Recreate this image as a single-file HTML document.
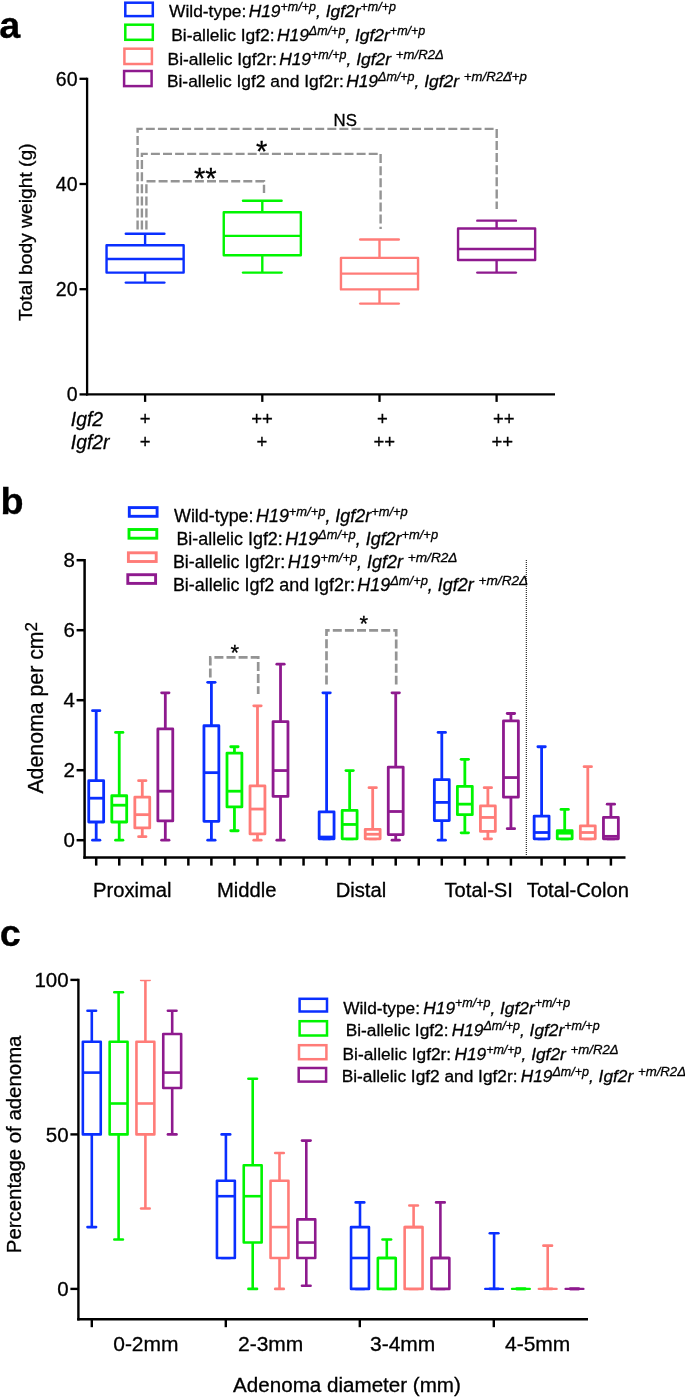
<!DOCTYPE html>
<html><head><meta charset="utf-8"><title>Figure</title>
<style>
html,body{margin:0;padding:0;background:#fff;}
body{width:685px;height:1397px;overflow:hidden;}
svg{display:block;will-change:transform;font-family:"Liberation Sans",sans-serif;fill:#000;}
text{stroke:#000;stroke-width:0.3px;white-space:pre;}
</style></head><body>
<svg width="685" height="1397" viewBox="0 0 685 1397">
<rect x="0" y="0" width="685" height="1397" fill="#ffffff" stroke="none"/>
<!-- panel a -->
<text x="-0.7" y="38" font-size="37.8" text-anchor="start" font-weight="bold">a</text>
<rect x="125.3" y="2.7" width="27.5" height="13.4" fill="#fff" stroke="#0a2fff" stroke-width="2.5"/>
<rect x="125.3" y="24.7" width="27.5" height="15.1" fill="#fff" stroke="#00f500" stroke-width="2.5"/>
<rect x="124.4" y="48.7" width="27.5" height="15.3" fill="#fff" stroke="#ff7c78" stroke-width="2.5"/>
<rect x="124.1" y="71" width="27.5" height="15.1" fill="#fff" stroke="#8e1a8e" stroke-width="2.5"/>
<text x="169" y="16.9" font-size="17.4" xml:space="preserve">Wild-type: <tspan font-style="italic" dx="-2.5">H19</tspan><tspan font-size="12.5" dy="-6.2" font-style="italic">+m/+p</tspan><tspan font-style="italic" dy="6.2">, Igf2r</tspan><tspan font-size="12.5" dy="-6.2" font-style="italic">+m/+p</tspan></text>
<text x="171.2" y="40.9" font-size="17.4" xml:space="preserve">Bi-allelic Igf2: <tspan font-style="italic" dx="-2.5">H19</tspan><tspan font-size="12.5" dy="-6.2" font-style="italic">&#916;m/+p</tspan><tspan font-style="italic" dy="6.2">, Igf2r</tspan><tspan font-size="12.5" dy="-6.2" font-style="italic">+m/+p</tspan></text>
<text x="167.6" y="64.8" font-size="17.4" xml:space="preserve">Bi-allelic Igf2r: <tspan font-style="italic" dx="-2.5">H19</tspan><tspan font-size="12.5" dy="-6.2" font-style="italic">+m/+p</tspan><tspan font-style="italic" dy="6.2">, Igf2r </tspan><tspan font-size="13.19" dy="-6.2" font-style="italic">+m/R2&#916;</tspan></text>
<text x="166.9" y="87" font-size="17.4" xml:space="preserve">Bi-allelic Igf2 and Igf2r: <tspan font-style="italic" dx="-2.5">H19</tspan><tspan font-size="12.5" dy="-6.2" font-style="italic">&#916;m/+p</tspan><tspan font-style="italic" dy="6.2">, Igf2r </tspan><tspan font-size="13.19" dy="-6.2" font-style="italic">+m/R2&#916;<tspan dx="-3">&#8217;+p</tspan></tspan></text>
<line x1="87.1" y1="77.65" x2="87.1" y2="395.55" stroke="#000" stroke-width="2.3" />
<line x1="85.95" y1="394.4" x2="555" y2="394.4" stroke="#000" stroke-width="2.3" />
<line x1="79.5" y1="394.4" x2="87.1" y2="394.4" stroke="#000" stroke-width="2.3" />
<text x="77.5" y="401.3" font-size="19.5" text-anchor="end" >0</text>
<line x1="79.5" y1="289.2" x2="87.1" y2="289.2" stroke="#000" stroke-width="2.3" />
<text x="77.5" y="296.1" font-size="19.5" text-anchor="end" >20</text>
<line x1="79.5" y1="184" x2="87.1" y2="184" stroke="#000" stroke-width="2.3" />
<text x="77.5" y="190.9" font-size="19.5" text-anchor="end" >40</text>
<line x1="79.5" y1="78.8" x2="87.1" y2="78.8" stroke="#000" stroke-width="2.3" />
<text x="77.5" y="85.7" font-size="19.5" text-anchor="end" >60</text>
<line x1="145.1" y1="394.4" x2="145.1" y2="401.9" stroke="#000" stroke-width="2.3" />
<line x1="262.3" y1="394.4" x2="262.3" y2="401.9" stroke="#000" stroke-width="2.3" />
<line x1="379.5" y1="394.4" x2="379.5" y2="401.9" stroke="#000" stroke-width="2.3" />
<line x1="496.6" y1="394.4" x2="496.6" y2="401.9" stroke="#000" stroke-width="2.3" />
<text transform="translate(31.7,321) rotate(-90)" font-size="19.25">Total body weight (g)</text>
<polyline points="137.6,229.6 137.6,128.9 496.7,128.9 496.7,209" fill="none" stroke="#949494" stroke-width="2.4" stroke-dasharray="9 3.1"/>
<polyline points="141.9,229.6 141.9,153.9 380.6,153.9 380.6,229" fill="none" stroke="#949494" stroke-width="2.4" stroke-dasharray="9 3.1"/>
<polyline points="146.4,229.6 146.4,181.3 264,181.3 264,193" fill="none" stroke="#949494" stroke-width="2.4" stroke-dasharray="9 3.1"/>
<text x="345.2" y="125.7" font-size="16.8" text-anchor="middle" >NS</text>
<text x="261.7" y="161" font-size="29" text-anchor="middle" stroke-width="0">*</text>
<text x="205.3" y="188.3" font-size="29" text-anchor="middle" stroke-width="0">**</text>
<line x1="145.1" y1="233.77" x2="145.1" y2="245.32" stroke="#0a2fff" stroke-width="2.4" />
<line x1="145.1" y1="272.62" x2="145.1" y2="282.6" stroke="#0a2fff" stroke-width="2.4" />
<line x1="125.8" y1="233.77" x2="164.4" y2="233.77" stroke="#0a2fff" stroke-width="2.4" stroke-linecap="round"/>
<line x1="125.8" y1="282.6" x2="164.4" y2="282.6" stroke="#0a2fff" stroke-width="2.4" stroke-linecap="round"/>
<rect x="106.55" y="245.32" width="77.1" height="27.3" fill="#fff" stroke="#0a2fff" stroke-width="2.4" stroke-linejoin="round"/>
<line x1="106.55" y1="258.98" x2="183.65" y2="258.98" stroke="#0a2fff" stroke-width="2.4" />
<line x1="262.3" y1="200.7" x2="262.3" y2="212.25" stroke="#00f500" stroke-width="2.4" />
<line x1="262.3" y1="255.3" x2="262.3" y2="272.62" stroke="#00f500" stroke-width="2.4" />
<line x1="243" y1="200.7" x2="281.6" y2="200.7" stroke="#00f500" stroke-width="2.4" stroke-linecap="round"/>
<line x1="243" y1="272.62" x2="281.6" y2="272.62" stroke="#00f500" stroke-width="2.4" stroke-linecap="round"/>
<rect x="223.75" y="212.25" width="77.1" height="43.05" fill="#fff" stroke="#00f500" stroke-width="2.4" stroke-linejoin="round"/>
<line x1="223.75" y1="235.87" x2="300.85" y2="235.87" stroke="#00f500" stroke-width="2.4" />
<line x1="379.5" y1="239.55" x2="379.5" y2="257.92" stroke="#ff7c78" stroke-width="2.4" />
<line x1="379.5" y1="289.42" x2="379.5" y2="303.6" stroke="#ff7c78" stroke-width="2.4" />
<line x1="360.2" y1="239.55" x2="398.8" y2="239.55" stroke="#ff7c78" stroke-width="2.4" stroke-linecap="round"/>
<line x1="360.2" y1="303.6" x2="398.8" y2="303.6" stroke="#ff7c78" stroke-width="2.4" stroke-linecap="round"/>
<rect x="340.95" y="257.92" width="77.1" height="31.5" fill="#fff" stroke="#ff7c78" stroke-width="2.4" stroke-linejoin="round"/>
<line x1="340.95" y1="273.67" x2="418.05" y2="273.67" stroke="#ff7c78" stroke-width="2.4" />
<line x1="496.6" y1="220.65" x2="496.6" y2="228.52" stroke="#8e1a8e" stroke-width="2.4" />
<line x1="496.6" y1="260.02" x2="496.6" y2="272.62" stroke="#8e1a8e" stroke-width="2.4" />
<line x1="477.3" y1="220.65" x2="515.9" y2="220.65" stroke="#8e1a8e" stroke-width="2.4" stroke-linecap="round"/>
<line x1="477.3" y1="272.62" x2="515.9" y2="272.62" stroke="#8e1a8e" stroke-width="2.4" stroke-linecap="round"/>
<rect x="458.05" y="228.52" width="77.1" height="31.5" fill="#fff" stroke="#8e1a8e" stroke-width="2.4" stroke-linejoin="round"/>
<line x1="458.05" y1="249" x2="535.15" y2="249" stroke="#8e1a8e" stroke-width="2.4" />
<text x="70.8" y="425.5" font-size="19.3" text-anchor="start" font-style="italic">Igf2</text>
<text x="70.8" y="448.5" font-size="19.3" text-anchor="start" font-style="italic">Igf2r</text>
<text x="145.2" y="424.6" font-size="18.5" text-anchor="middle" >+</text>
<text x="262" y="424.6" font-size="18.5" text-anchor="middle" >++</text>
<text x="382.4" y="424.6" font-size="18.5" text-anchor="middle" >+</text>
<text x="503.7" y="424.6" font-size="18.5" text-anchor="middle" >++</text>
<text x="145.2" y="447.9" font-size="18.5" text-anchor="middle" >+</text>
<text x="261.8" y="447.9" font-size="18.5" text-anchor="middle" >+</text>
<text x="384.3" y="447.9" font-size="18.5" text-anchor="middle" >++</text>
<text x="502.2" y="447.9" font-size="18.5" text-anchor="middle" >++</text>
<!-- panel b -->
<text x="0.4" y="513.6" font-size="37.8" text-anchor="start" font-weight="bold">b</text>
<rect x="129.3" y="507.6" width="27.8" height="8.7" fill="#fff" stroke="#0a2fff" stroke-width="2.9"/>
<rect x="129" y="529.5" width="27.8" height="8.7" fill="#fff" stroke="#00f500" stroke-width="2.9"/>
<rect x="128.4" y="552.8" width="27.8" height="8.7" fill="#fff" stroke="#ff7c78" stroke-width="2.9"/>
<rect x="127.8" y="574.7" width="27.8" height="8.7" fill="#fff" stroke="#8e1a8e" stroke-width="2.9"/>
<text x="174" y="521.7" font-size="17.9" xml:space="preserve">Wild-type: <tspan font-style="italic" dx="-2.5">H19</tspan><tspan font-size="12.9" dy="-6.2" font-style="italic">+m/+p</tspan><tspan font-style="italic" dy="6.2">, Igf2r</tspan><tspan font-size="12.9" dy="-6.2" font-style="italic">+m/+p</tspan></text>
<text x="176.4" y="544.9" font-size="17.9" xml:space="preserve">Bi-allelic Igf2: <tspan font-style="italic" dx="-2.5">H19</tspan><tspan font-size="12.9" dy="-6.2" font-style="italic">&#916;m/+p</tspan><tspan font-style="italic" dy="6.2">, Igf2r</tspan><tspan font-size="12.9" dy="-6.2" font-style="italic">+m/+p</tspan></text>
<text x="172.9" y="568.1" font-size="17.9" xml:space="preserve">Bi-allelic Igf2r: <tspan font-style="italic" dx="-2.5">H19</tspan><tspan font-size="12.9" dy="-6.2" font-style="italic">+m/+p</tspan><tspan font-style="italic" dy="6.2">, Igf2r </tspan><tspan font-size="13.61" dy="-6.2" font-style="italic">+m/R2&#916;</tspan></text>
<text x="172.9" y="590.9" font-size="17.9" xml:space="preserve">Bi-allelic Igf2 and Igf2r: <tspan font-style="italic" dx="-2.5">H19</tspan><tspan font-size="12.9" dy="-6.2" font-style="italic">&#916;m/+p</tspan><tspan font-style="italic" dy="6.2">, Igf2r </tspan><tspan font-size="13.61" dy="-6.2" font-style="italic">+m/R2&#916;</tspan></text>
<line x1="84.6" y1="558.95" x2="84.6" y2="858.85" stroke="#000" stroke-width="2.5" />
<line x1="83.35" y1="857.6" x2="625.5" y2="857.6" stroke="#000" stroke-width="2.5" />
<line x1="76.6" y1="840.2" x2="84.6" y2="840.2" stroke="#000" stroke-width="2.5" />
<text x="74.8" y="847.4" font-size="20.5" text-anchor="end" >0</text>
<line x1="76.6" y1="770.2" x2="84.6" y2="770.2" stroke="#000" stroke-width="2.5" />
<text x="74.8" y="777.4" font-size="20.5" text-anchor="end" >2</text>
<line x1="76.6" y1="700.2" x2="84.6" y2="700.2" stroke="#000" stroke-width="2.5" />
<text x="74.8" y="707.4" font-size="20.5" text-anchor="end" >4</text>
<line x1="76.6" y1="630.2" x2="84.6" y2="630.2" stroke="#000" stroke-width="2.5" />
<text x="74.8" y="637.4" font-size="20.5" text-anchor="end" >6</text>
<line x1="76.6" y1="560.2" x2="84.6" y2="560.2" stroke="#000" stroke-width="2.5" />
<text x="74.8" y="567.4" font-size="20.5" text-anchor="end" >8</text>
<line x1="96.2" y1="857.6" x2="96.2" y2="865.6" stroke="#000" stroke-width="2.5" />
<line x1="119.24" y1="857.6" x2="119.24" y2="865.6" stroke="#000" stroke-width="2.5" />
<line x1="142.28" y1="857.6" x2="142.28" y2="865.6" stroke="#000" stroke-width="2.5" />
<line x1="165.32" y1="857.6" x2="165.32" y2="865.6" stroke="#000" stroke-width="2.5" />
<line x1="188.36" y1="857.6" x2="188.36" y2="865.6" stroke="#000" stroke-width="2.5" />
<line x1="211.4" y1="857.6" x2="211.4" y2="865.6" stroke="#000" stroke-width="2.5" />
<line x1="234.44" y1="857.6" x2="234.44" y2="865.6" stroke="#000" stroke-width="2.5" />
<line x1="257.48" y1="857.6" x2="257.48" y2="865.6" stroke="#000" stroke-width="2.5" />
<line x1="280.52" y1="857.6" x2="280.52" y2="865.6" stroke="#000" stroke-width="2.5" />
<line x1="303.56" y1="857.6" x2="303.56" y2="865.6" stroke="#000" stroke-width="2.5" />
<line x1="326.6" y1="857.6" x2="326.6" y2="865.6" stroke="#000" stroke-width="2.5" />
<line x1="349.64" y1="857.6" x2="349.64" y2="865.6" stroke="#000" stroke-width="2.5" />
<line x1="372.68" y1="857.6" x2="372.68" y2="865.6" stroke="#000" stroke-width="2.5" />
<line x1="395.72" y1="857.6" x2="395.72" y2="865.6" stroke="#000" stroke-width="2.5" />
<line x1="418.76" y1="857.6" x2="418.76" y2="865.6" stroke="#000" stroke-width="2.5" />
<line x1="441.8" y1="857.6" x2="441.8" y2="865.6" stroke="#000" stroke-width="2.5" />
<line x1="464.84" y1="857.6" x2="464.84" y2="865.6" stroke="#000" stroke-width="2.5" />
<line x1="487.88" y1="857.6" x2="487.88" y2="865.6" stroke="#000" stroke-width="2.5" />
<line x1="510.92" y1="857.6" x2="510.92" y2="865.6" stroke="#000" stroke-width="2.5" />
<line x1="541.6" y1="857.6" x2="541.6" y2="865.6" stroke="#000" stroke-width="2.5" />
<line x1="564.7" y1="857.6" x2="564.7" y2="865.6" stroke="#000" stroke-width="2.5" />
<line x1="587.8" y1="857.6" x2="587.8" y2="865.6" stroke="#000" stroke-width="2.5" />
<line x1="610.9" y1="857.6" x2="610.9" y2="865.6" stroke="#000" stroke-width="2.5" />
<text transform="translate(43.3,793.6) rotate(-90)" font-size="21.3">Adenoma per cm<tspan font-size="17" dy="-6.7">2</tspan></text>
<line x1="526.3" y1="560" x2="526.3" y2="855" stroke="#000" stroke-width="1" stroke-dasharray="1 1"/>
<line x1="96.2" y1="710.7" x2="96.2" y2="780.7" stroke="#0a2fff" stroke-width="2.8" />
<line x1="96.2" y1="822" x2="96.2" y2="840.2" stroke="#0a2fff" stroke-width="2.8" />
<line x1="92.5" y1="710.7" x2="99.9" y2="710.7" stroke="#0a2fff" stroke-width="2.8" stroke-linecap="round"/>
<line x1="92.5" y1="840.2" x2="99.9" y2="840.2" stroke="#0a2fff" stroke-width="2.8" stroke-linecap="round"/>
<rect x="88.75" y="780.7" width="14.9" height="41.3" fill="#fff" stroke="#0a2fff" stroke-width="2.8" stroke-linejoin="round"/>
<line x1="88.75" y1="798.2" x2="103.65" y2="798.2" stroke="#0a2fff" stroke-width="2.8" />
<line x1="119.24" y1="732.4" x2="119.24" y2="795.75" stroke="#00f500" stroke-width="2.8" />
<line x1="119.24" y1="822" x2="119.24" y2="840.2" stroke="#00f500" stroke-width="2.8" />
<line x1="115.54" y1="732.4" x2="122.94" y2="732.4" stroke="#00f500" stroke-width="2.8" stroke-linecap="round"/>
<line x1="115.54" y1="840.2" x2="122.94" y2="840.2" stroke="#00f500" stroke-width="2.8" stroke-linecap="round"/>
<rect x="111.79" y="795.75" width="14.9" height="26.25" fill="#fff" stroke="#00f500" stroke-width="2.8" stroke-linejoin="round"/>
<line x1="111.79" y1="805.2" x2="126.69" y2="805.2" stroke="#00f500" stroke-width="2.8" />
<line x1="142.28" y1="780.7" x2="142.28" y2="797.15" stroke="#ff7c78" stroke-width="2.8" />
<line x1="142.28" y1="827.95" x2="142.28" y2="836.7" stroke="#ff7c78" stroke-width="2.8" />
<line x1="138.58" y1="780.7" x2="145.98" y2="780.7" stroke="#ff7c78" stroke-width="2.8" stroke-linecap="round"/>
<line x1="138.58" y1="836.7" x2="145.98" y2="836.7" stroke="#ff7c78" stroke-width="2.8" stroke-linecap="round"/>
<rect x="134.83" y="797.15" width="14.9" height="30.8" fill="#fff" stroke="#ff7c78" stroke-width="2.8" stroke-linejoin="round"/>
<line x1="134.83" y1="814.65" x2="149.73" y2="814.65" stroke="#ff7c78" stroke-width="2.8" />
<line x1="165.32" y1="692.85" x2="165.32" y2="728.9" stroke="#8e1a8e" stroke-width="2.8" />
<line x1="165.32" y1="820.95" x2="165.32" y2="840.2" stroke="#8e1a8e" stroke-width="2.8" />
<line x1="161.62" y1="692.85" x2="169.02" y2="692.85" stroke="#8e1a8e" stroke-width="2.8" stroke-linecap="round"/>
<line x1="161.62" y1="840.2" x2="169.02" y2="840.2" stroke="#8e1a8e" stroke-width="2.8" stroke-linecap="round"/>
<rect x="157.87" y="728.9" width="14.9" height="92.05" fill="#fff" stroke="#8e1a8e" stroke-width="2.8" stroke-linejoin="round"/>
<line x1="157.87" y1="791.2" x2="172.77" y2="791.2" stroke="#8e1a8e" stroke-width="2.8" />
<line x1="211.4" y1="682.35" x2="211.4" y2="725.75" stroke="#0a2fff" stroke-width="2.8" />
<line x1="211.4" y1="821.3" x2="211.4" y2="840.2" stroke="#0a2fff" stroke-width="2.8" />
<line x1="207.7" y1="682.35" x2="215.1" y2="682.35" stroke="#0a2fff" stroke-width="2.8" stroke-linecap="round"/>
<line x1="207.7" y1="840.2" x2="215.1" y2="840.2" stroke="#0a2fff" stroke-width="2.8" stroke-linecap="round"/>
<rect x="203.95" y="725.75" width="14.9" height="95.55" fill="#fff" stroke="#0a2fff" stroke-width="2.8" stroke-linejoin="round"/>
<line x1="203.95" y1="772.65" x2="218.85" y2="772.65" stroke="#0a2fff" stroke-width="2.8" />
<line x1="234.44" y1="746.75" x2="234.44" y2="753.05" stroke="#00f500" stroke-width="2.8" />
<line x1="234.44" y1="806.95" x2="234.44" y2="830.75" stroke="#00f500" stroke-width="2.8" />
<line x1="230.74" y1="746.75" x2="238.14" y2="746.75" stroke="#00f500" stroke-width="2.8" stroke-linecap="round"/>
<line x1="230.74" y1="830.75" x2="238.14" y2="830.75" stroke="#00f500" stroke-width="2.8" stroke-linecap="round"/>
<rect x="226.99" y="753.05" width="14.9" height="53.9" fill="#fff" stroke="#00f500" stroke-width="2.8" stroke-linejoin="round"/>
<line x1="226.99" y1="791.2" x2="241.89" y2="791.2" stroke="#00f500" stroke-width="2.8" />
<line x1="257.48" y1="705.8" x2="257.48" y2="785.95" stroke="#ff7c78" stroke-width="2.8" />
<line x1="257.48" y1="833.9" x2="257.48" y2="840.2" stroke="#ff7c78" stroke-width="2.8" />
<line x1="253.78" y1="705.8" x2="261.18" y2="705.8" stroke="#ff7c78" stroke-width="2.8" stroke-linecap="round"/>
<line x1="253.78" y1="840.2" x2="261.18" y2="840.2" stroke="#ff7c78" stroke-width="2.8" stroke-linecap="round"/>
<rect x="250.03" y="785.95" width="14.9" height="47.95" fill="#fff" stroke="#ff7c78" stroke-width="2.8" stroke-linejoin="round"/>
<line x1="250.03" y1="809.05" x2="264.93" y2="809.05" stroke="#ff7c78" stroke-width="2.8" />
<line x1="280.52" y1="664.15" x2="280.52" y2="721.55" stroke="#8e1a8e" stroke-width="2.8" />
<line x1="280.52" y1="796.45" x2="280.52" y2="840.2" stroke="#8e1a8e" stroke-width="2.8" />
<line x1="276.82" y1="664.15" x2="284.22" y2="664.15" stroke="#8e1a8e" stroke-width="2.8" stroke-linecap="round"/>
<line x1="276.82" y1="840.2" x2="284.22" y2="840.2" stroke="#8e1a8e" stroke-width="2.8" stroke-linecap="round"/>
<rect x="273.07" y="721.55" width="14.9" height="74.9" fill="#fff" stroke="#8e1a8e" stroke-width="2.8" stroke-linejoin="round"/>
<line x1="273.07" y1="770.55" x2="287.97" y2="770.55" stroke="#8e1a8e" stroke-width="2.8" />
<line x1="326.6" y1="692.85" x2="326.6" y2="811.85" stroke="#0a2fff" stroke-width="2.8" />
<line x1="326.6" y1="838.8" x2="326.6" y2="838.8" stroke="#0a2fff" stroke-width="2.8" />
<line x1="322.9" y1="692.85" x2="330.3" y2="692.85" stroke="#0a2fff" stroke-width="2.8" stroke-linecap="round"/>
<line x1="322.9" y1="838.8" x2="330.3" y2="838.8" stroke="#0a2fff" stroke-width="2.8" stroke-linecap="round"/>
<rect x="319.15" y="811.85" width="14.9" height="26.95" fill="#fff" stroke="#0a2fff" stroke-width="2.8" stroke-linejoin="round"/>
<line x1="319.15" y1="837.05" x2="334.05" y2="837.05" stroke="#0a2fff" stroke-width="2.8" />
<line x1="349.64" y1="770.55" x2="349.64" y2="810.45" stroke="#00f500" stroke-width="2.8" />
<line x1="349.64" y1="838.8" x2="349.64" y2="838.8" stroke="#00f500" stroke-width="2.8" />
<line x1="345.94" y1="770.55" x2="353.34" y2="770.55" stroke="#00f500" stroke-width="2.8" stroke-linecap="round"/>
<line x1="345.94" y1="838.8" x2="353.34" y2="838.8" stroke="#00f500" stroke-width="2.8" stroke-linecap="round"/>
<rect x="342.19" y="810.45" width="14.9" height="28.35" fill="#fff" stroke="#00f500" stroke-width="2.8" stroke-linejoin="round"/>
<line x1="342.19" y1="824.45" x2="357.09" y2="824.45" stroke="#00f500" stroke-width="2.8" />
<line x1="372.68" y1="787.7" x2="372.68" y2="829.35" stroke="#ff7c78" stroke-width="2.8" />
<line x1="372.68" y1="838.8" x2="372.68" y2="838.8" stroke="#ff7c78" stroke-width="2.8" />
<line x1="368.98" y1="787.7" x2="376.38" y2="787.7" stroke="#ff7c78" stroke-width="2.8" stroke-linecap="round"/>
<line x1="368.98" y1="838.8" x2="376.38" y2="838.8" stroke="#ff7c78" stroke-width="2.8" stroke-linecap="round"/>
<rect x="365.23" y="829.35" width="14.9" height="9.45" fill="#fff" stroke="#ff7c78" stroke-width="2.8" stroke-linejoin="round"/>
<line x1="365.23" y1="834.25" x2="380.13" y2="834.25" stroke="#ff7c78" stroke-width="2.8" />
<line x1="395.72" y1="692.85" x2="395.72" y2="767.05" stroke="#8e1a8e" stroke-width="2.8" />
<line x1="395.72" y1="834.6" x2="395.72" y2="840.2" stroke="#8e1a8e" stroke-width="2.8" />
<line x1="392.02" y1="692.85" x2="399.42" y2="692.85" stroke="#8e1a8e" stroke-width="2.8" stroke-linecap="round"/>
<line x1="392.02" y1="840.2" x2="399.42" y2="840.2" stroke="#8e1a8e" stroke-width="2.8" stroke-linecap="round"/>
<rect x="388.27" y="767.05" width="14.9" height="67.55" fill="#fff" stroke="#8e1a8e" stroke-width="2.8" stroke-linejoin="round"/>
<line x1="388.27" y1="811.5" x2="403.17" y2="811.5" stroke="#8e1a8e" stroke-width="2.8" />
<line x1="441.8" y1="732.4" x2="441.8" y2="779.65" stroke="#0a2fff" stroke-width="2.8" />
<line x1="441.8" y1="820.6" x2="441.8" y2="840.2" stroke="#0a2fff" stroke-width="2.8" />
<line x1="438.1" y1="732.4" x2="445.5" y2="732.4" stroke="#0a2fff" stroke-width="2.8" stroke-linecap="round"/>
<line x1="438.1" y1="840.2" x2="445.5" y2="840.2" stroke="#0a2fff" stroke-width="2.8" stroke-linecap="round"/>
<rect x="434.35" y="779.65" width="14.9" height="40.95" fill="#fff" stroke="#0a2fff" stroke-width="2.8" stroke-linejoin="round"/>
<line x1="434.35" y1="802.4" x2="449.25" y2="802.4" stroke="#0a2fff" stroke-width="2.8" />
<line x1="464.84" y1="759.35" x2="464.84" y2="786.3" stroke="#00f500" stroke-width="2.8" />
<line x1="464.84" y1="814.65" x2="464.84" y2="832.85" stroke="#00f500" stroke-width="2.8" />
<line x1="461.14" y1="759.35" x2="468.54" y2="759.35" stroke="#00f500" stroke-width="2.8" stroke-linecap="round"/>
<line x1="461.14" y1="832.85" x2="468.54" y2="832.85" stroke="#00f500" stroke-width="2.8" stroke-linecap="round"/>
<rect x="457.39" y="786.3" width="14.9" height="28.35" fill="#fff" stroke="#00f500" stroke-width="2.8" stroke-linejoin="round"/>
<line x1="457.39" y1="804.15" x2="472.29" y2="804.15" stroke="#00f500" stroke-width="2.8" />
<line x1="487.88" y1="787.7" x2="487.88" y2="805.9" stroke="#ff7c78" stroke-width="2.8" />
<line x1="487.88" y1="831.45" x2="487.88" y2="838.8" stroke="#ff7c78" stroke-width="2.8" />
<line x1="484.18" y1="787.7" x2="491.58" y2="787.7" stroke="#ff7c78" stroke-width="2.8" stroke-linecap="round"/>
<line x1="484.18" y1="838.8" x2="491.58" y2="838.8" stroke="#ff7c78" stroke-width="2.8" stroke-linecap="round"/>
<rect x="480.43" y="805.9" width="14.9" height="25.55" fill="#fff" stroke="#ff7c78" stroke-width="2.8" stroke-linejoin="round"/>
<line x1="480.43" y1="817.45" x2="495.33" y2="817.45" stroke="#ff7c78" stroke-width="2.8" />
<line x1="510.92" y1="713.5" x2="510.92" y2="720.85" stroke="#8e1a8e" stroke-width="2.8" />
<line x1="510.92" y1="797.15" x2="510.92" y2="828.65" stroke="#8e1a8e" stroke-width="2.8" />
<line x1="507.22" y1="713.5" x2="514.62" y2="713.5" stroke="#8e1a8e" stroke-width="2.8" stroke-linecap="round"/>
<line x1="507.22" y1="828.65" x2="514.62" y2="828.65" stroke="#8e1a8e" stroke-width="2.8" stroke-linecap="round"/>
<rect x="503.47" y="720.85" width="14.9" height="76.3" fill="#fff" stroke="#8e1a8e" stroke-width="2.8" stroke-linejoin="round"/>
<line x1="503.47" y1="777.55" x2="518.37" y2="777.55" stroke="#8e1a8e" stroke-width="2.8" />
<line x1="541.6" y1="746.75" x2="541.6" y2="816.05" stroke="#0a2fff" stroke-width="2.8" />
<line x1="541.6" y1="838.8" x2="541.6" y2="838.8" stroke="#0a2fff" stroke-width="2.8" />
<line x1="537.9" y1="746.75" x2="545.3" y2="746.75" stroke="#0a2fff" stroke-width="2.8" stroke-linecap="round"/>
<line x1="537.9" y1="838.8" x2="545.3" y2="838.8" stroke="#0a2fff" stroke-width="2.8" stroke-linecap="round"/>
<rect x="534.15" y="816.05" width="14.9" height="22.75" fill="#fff" stroke="#0a2fff" stroke-width="2.8" stroke-linejoin="round"/>
<line x1="534.15" y1="832.5" x2="549.05" y2="832.5" stroke="#0a2fff" stroke-width="2.8" />
<line x1="564.7" y1="809.4" x2="564.7" y2="830.75" stroke="#00f500" stroke-width="2.8" />
<line x1="564.7" y1="838.8" x2="564.7" y2="838.8" stroke="#00f500" stroke-width="2.8" />
<line x1="561" y1="809.4" x2="568.4" y2="809.4" stroke="#00f500" stroke-width="2.8" stroke-linecap="round"/>
<line x1="561" y1="838.8" x2="568.4" y2="838.8" stroke="#00f500" stroke-width="2.8" stroke-linecap="round"/>
<rect x="557.25" y="830.75" width="14.9" height="8.05" fill="#fff" stroke="#00f500" stroke-width="2.8" stroke-linejoin="round"/>
<line x1="557.25" y1="833.2" x2="572.15" y2="833.2" stroke="#00f500" stroke-width="2.8" />
<line x1="587.8" y1="766.7" x2="587.8" y2="825.85" stroke="#ff7c78" stroke-width="2.8" />
<line x1="587.8" y1="838.8" x2="587.8" y2="838.8" stroke="#ff7c78" stroke-width="2.8" />
<line x1="584.1" y1="766.7" x2="591.5" y2="766.7" stroke="#ff7c78" stroke-width="2.8" stroke-linecap="round"/>
<line x1="584.1" y1="838.8" x2="591.5" y2="838.8" stroke="#ff7c78" stroke-width="2.8" stroke-linecap="round"/>
<rect x="580.35" y="825.85" width="14.9" height="12.95" fill="#fff" stroke="#ff7c78" stroke-width="2.8" stroke-linejoin="round"/>
<line x1="580.35" y1="832.5" x2="595.25" y2="832.5" stroke="#ff7c78" stroke-width="2.8" />
<line x1="610.9" y1="804.15" x2="610.9" y2="817.45" stroke="#8e1a8e" stroke-width="2.8" />
<line x1="610.9" y1="838.8" x2="610.9" y2="838.8" stroke="#8e1a8e" stroke-width="2.8" />
<line x1="607.2" y1="804.15" x2="614.6" y2="804.15" stroke="#8e1a8e" stroke-width="2.8" stroke-linecap="round"/>
<line x1="607.2" y1="838.8" x2="614.6" y2="838.8" stroke="#8e1a8e" stroke-width="2.8" stroke-linecap="round"/>
<rect x="603.45" y="817.45" width="14.9" height="21.35" fill="#fff" stroke="#8e1a8e" stroke-width="2.8" stroke-linejoin="round"/>
<line x1="603.45" y1="836.35" x2="618.35" y2="836.35" stroke="#8e1a8e" stroke-width="2.8" />
<polyline points="210.3,677.5 210.3,657.4 258.2,657.4 258.2,694" fill="none" stroke="#949494" stroke-width="2.7" stroke-dasharray="9 3.1"/>
<polyline points="326.5,684.5 326.5,630.3 396.2,630.3 396.2,684.5" fill="none" stroke="#949494" stroke-width="2.7" stroke-dasharray="9 3.1"/>
<text x="234.9" y="659.5" font-size="22" text-anchor="middle" stroke-width="0">*</text>
<text x="363.9" y="630.8" font-size="22" text-anchor="middle" stroke-width="0">*</text>
<text transform="translate(93,896.6) scale(1.036,1)" font-size="19.5" text-anchor="start" >Proximal</text>
<text transform="translate(217,896.6) scale(1.036,1)" font-size="19.5" text-anchor="start" >Middle</text>
<text transform="translate(335.7,896.6) scale(1.036,1)" font-size="19.5" text-anchor="start" >Distal</text>
<text transform="translate(444.5,896.6) scale(1.036,1)" font-size="19.5" text-anchor="start" >Total-SI</text>
<text transform="translate(526.8,896.6) scale(1.036,1)" font-size="19.5" text-anchor="start" >Total-Colon</text>
<!-- panel c -->
<text x="-0.3" y="945.6" font-size="37.8" text-anchor="start" font-weight="bold">c</text>
<rect x="299.6" y="998.8" width="27.4" height="12.7" fill="#fff" stroke="#0a2fff" stroke-width="2.5"/>
<rect x="299.6" y="1021.2" width="27.4" height="14.3" fill="#fff" stroke="#00f500" stroke-width="2.5"/>
<rect x="299" y="1045.2" width="27.4" height="14" fill="#fff" stroke="#ff7c78" stroke-width="2.5"/>
<rect x="298.7" y="1068" width="27.4" height="13.6" fill="#fff" stroke="#8e1a8e" stroke-width="2.5"/>
<text x="343.2" y="1013.6" font-size="17.3" xml:space="preserve">Wild-type: <tspan font-style="italic" dx="-1.5">H19</tspan><tspan font-size="12.5" dy="-6.2" font-style="italic">+m/+p</tspan><tspan font-style="italic" dy="6.2">, Igf2r</tspan><tspan font-size="12.5" dy="-6.2" font-style="italic">+m/+p</tspan></text>
<text x="345.7" y="1036.1" font-size="17.3" xml:space="preserve">Bi-allelic Igf2: <tspan font-style="italic" dx="-1.5">H19</tspan><tspan font-size="12.5" dy="-6.2" font-style="italic">&#916;m/+p</tspan><tspan font-style="italic" dy="6.2">, Igf2r</tspan><tspan font-size="12.5" dy="-6.2" font-style="italic">+m/+p</tspan></text>
<text x="342.6" y="1060.3" font-size="17.3" xml:space="preserve">Bi-allelic Igf2r: <tspan font-style="italic" dx="-1.5">H19</tspan><tspan font-size="12.5" dy="-6.2" font-style="italic">+m/+p</tspan><tspan font-style="italic" dy="6.2">, Igf2r </tspan><tspan font-size="13.19" dy="-6.2" font-style="italic">+m/R2&#916;</tspan></text>
<text x="341.7" y="1082.2" font-size="17.3" xml:space="preserve">Bi-allelic Igf2 and Igf2r: <tspan font-style="italic" dx="-1.5">H19</tspan><tspan font-size="12.5" dy="-6.2" font-style="italic">&#916;m/+p</tspan><tspan font-style="italic" dy="6.2">, Igf2r </tspan><tspan font-size="13.19" dy="-6.2" font-style="italic">+m/R2&#916;</tspan></text>
<line x1="78.4" y1="978.7" x2="78.4" y2="1320.4" stroke="#000" stroke-width="2.4" />
<line x1="77.2" y1="1319.2" x2="588" y2="1319.2" stroke="#000" stroke-width="2.4" />
<line x1="70.4" y1="1288.9" x2="78.4" y2="1288.9" stroke="#000" stroke-width="2.4" />
<text x="68.6" y="1296.1" font-size="20.5" text-anchor="end" >0</text>
<line x1="70.4" y1="1134.4" x2="78.4" y2="1134.4" stroke="#000" stroke-width="2.4" />
<text x="68.6" y="1141.6" font-size="20.5" text-anchor="end" >50</text>
<line x1="70.4" y1="979.9" x2="78.4" y2="979.9" stroke="#000" stroke-width="2.4" />
<text x="68.6" y="987.1" font-size="20.5" text-anchor="end" >100</text>
<line x1="91.8" y1="1319.2" x2="91.8" y2="1327.2" stroke="#000" stroke-width="2.4" />
<line x1="225.8" y1="1319.2" x2="225.8" y2="1327.2" stroke="#000" stroke-width="2.4" />
<line x1="359.8" y1="1319.2" x2="359.8" y2="1327.2" stroke="#000" stroke-width="2.4" />
<line x1="493.8" y1="1319.2" x2="493.8" y2="1327.2" stroke="#000" stroke-width="2.4" />
<text transform="translate(21,1253.2) rotate(-90)" font-size="20.4">Percentage of adenoma</text>
<line x1="91.8" y1="1010.8" x2="91.8" y2="1041.7" stroke="#0a2fff" stroke-width="2.6" />
<line x1="91.8" y1="1134.4" x2="91.8" y2="1227.1" stroke="#0a2fff" stroke-width="2.6" />
<line x1="87.5" y1="1010.8" x2="96.1" y2="1010.8" stroke="#0a2fff" stroke-width="2.6" stroke-linecap="round"/>
<line x1="87.5" y1="1227.1" x2="96.1" y2="1227.1" stroke="#0a2fff" stroke-width="2.6" stroke-linecap="round"/>
<rect x="82.85" y="1041.7" width="17.9" height="92.7" fill="#fff" stroke="#0a2fff" stroke-width="2.6" stroke-linejoin="round"/>
<line x1="82.85" y1="1072.6" x2="100.75" y2="1072.6" stroke="#0a2fff" stroke-width="2.6" />
<line x1="118.6" y1="992.26" x2="118.6" y2="1041.7" stroke="#00f500" stroke-width="2.6" />
<line x1="118.6" y1="1134.4" x2="118.6" y2="1239.46" stroke="#00f500" stroke-width="2.6" />
<line x1="114.3" y1="992.26" x2="122.9" y2="992.26" stroke="#00f500" stroke-width="2.6" stroke-linecap="round"/>
<line x1="114.3" y1="1239.46" x2="122.9" y2="1239.46" stroke="#00f500" stroke-width="2.6" stroke-linecap="round"/>
<rect x="109.65" y="1041.7" width="17.9" height="92.7" fill="#fff" stroke="#00f500" stroke-width="2.6" stroke-linejoin="round"/>
<line x1="109.65" y1="1103.5" x2="127.55" y2="1103.5" stroke="#00f500" stroke-width="2.6" />
<line x1="145.4" y1="979.9" x2="145.4" y2="1041.7" stroke="#ff7c78" stroke-width="2.6" />
<line x1="145.4" y1="1134.4" x2="145.4" y2="1208.56" stroke="#ff7c78" stroke-width="2.6" />
<line x1="141.1" y1="979.9" x2="149.7" y2="979.9" stroke="#ff7c78" stroke-width="2.6" stroke-linecap="round"/>
<line x1="141.1" y1="1208.56" x2="149.7" y2="1208.56" stroke="#ff7c78" stroke-width="2.6" stroke-linecap="round"/>
<rect x="136.45" y="1041.7" width="17.9" height="92.7" fill="#fff" stroke="#ff7c78" stroke-width="2.6" stroke-linejoin="round"/>
<line x1="136.45" y1="1103.5" x2="154.35" y2="1103.5" stroke="#ff7c78" stroke-width="2.6" />
<line x1="172.2" y1="1010.8" x2="172.2" y2="1033.98" stroke="#8e1a8e" stroke-width="2.6" />
<line x1="172.2" y1="1088.05" x2="172.2" y2="1134.4" stroke="#8e1a8e" stroke-width="2.6" />
<line x1="167.9" y1="1010.8" x2="176.5" y2="1010.8" stroke="#8e1a8e" stroke-width="2.6" stroke-linecap="round"/>
<line x1="167.9" y1="1134.4" x2="176.5" y2="1134.4" stroke="#8e1a8e" stroke-width="2.6" stroke-linecap="round"/>
<rect x="163.25" y="1033.98" width="17.9" height="54.08" fill="#fff" stroke="#8e1a8e" stroke-width="2.6" stroke-linejoin="round"/>
<line x1="163.25" y1="1072.6" x2="181.15" y2="1072.6" stroke="#8e1a8e" stroke-width="2.6" />
<line x1="225.9" y1="1134.4" x2="225.9" y2="1180.75" stroke="#0a2fff" stroke-width="2.6" />
<line x1="225.9" y1="1258" x2="225.9" y2="1258" stroke="#0a2fff" stroke-width="2.6" />
<line x1="221.6" y1="1134.4" x2="230.2" y2="1134.4" stroke="#0a2fff" stroke-width="2.6" stroke-linecap="round"/>
<line x1="221.6" y1="1258" x2="230.2" y2="1258" stroke="#0a2fff" stroke-width="2.6" stroke-linecap="round"/>
<rect x="216.95" y="1180.75" width="17.9" height="77.25" fill="#fff" stroke="#0a2fff" stroke-width="2.6" stroke-linejoin="round"/>
<line x1="216.95" y1="1196.2" x2="234.85" y2="1196.2" stroke="#0a2fff" stroke-width="2.6" />
<line x1="252.7" y1="1078.78" x2="252.7" y2="1165.3" stroke="#00f500" stroke-width="2.6" />
<line x1="252.7" y1="1242.55" x2="252.7" y2="1288.9" stroke="#00f500" stroke-width="2.6" />
<line x1="248.4" y1="1078.78" x2="257" y2="1078.78" stroke="#00f500" stroke-width="2.6" stroke-linecap="round"/>
<line x1="248.4" y1="1288.9" x2="257" y2="1288.9" stroke="#00f500" stroke-width="2.6" stroke-linecap="round"/>
<rect x="243.75" y="1165.3" width="17.9" height="77.25" fill="#fff" stroke="#00f500" stroke-width="2.6" stroke-linejoin="round"/>
<line x1="243.75" y1="1196.2" x2="261.65" y2="1196.2" stroke="#00f500" stroke-width="2.6" />
<line x1="279.5" y1="1152.94" x2="279.5" y2="1180.75" stroke="#ff7c78" stroke-width="2.6" />
<line x1="279.5" y1="1258" x2="279.5" y2="1288.9" stroke="#ff7c78" stroke-width="2.6" />
<line x1="275.2" y1="1152.94" x2="283.8" y2="1152.94" stroke="#ff7c78" stroke-width="2.6" stroke-linecap="round"/>
<line x1="275.2" y1="1288.9" x2="283.8" y2="1288.9" stroke="#ff7c78" stroke-width="2.6" stroke-linecap="round"/>
<rect x="270.55" y="1180.75" width="17.9" height="77.25" fill="#fff" stroke="#ff7c78" stroke-width="2.6" stroke-linejoin="round"/>
<line x1="270.55" y1="1227.1" x2="288.45" y2="1227.1" stroke="#ff7c78" stroke-width="2.6" />
<line x1="306.3" y1="1140.58" x2="306.3" y2="1219.38" stroke="#8e1a8e" stroke-width="2.6" />
<line x1="306.3" y1="1258" x2="306.3" y2="1285.81" stroke="#8e1a8e" stroke-width="2.6" />
<line x1="302" y1="1140.58" x2="310.6" y2="1140.58" stroke="#8e1a8e" stroke-width="2.6" stroke-linecap="round"/>
<line x1="302" y1="1285.81" x2="310.6" y2="1285.81" stroke="#8e1a8e" stroke-width="2.6" stroke-linecap="round"/>
<rect x="297.35" y="1219.38" width="17.9" height="38.62" fill="#fff" stroke="#8e1a8e" stroke-width="2.6" stroke-linejoin="round"/>
<line x1="297.35" y1="1242.55" x2="315.25" y2="1242.55" stroke="#8e1a8e" stroke-width="2.6" />
<line x1="360" y1="1202.38" x2="360" y2="1227.1" stroke="#0a2fff" stroke-width="2.6" />
<line x1="360" y1="1288.9" x2="360" y2="1288.9" stroke="#0a2fff" stroke-width="2.6" />
<line x1="355.7" y1="1202.38" x2="364.3" y2="1202.38" stroke="#0a2fff" stroke-width="2.6" stroke-linecap="round"/>
<line x1="355.7" y1="1288.9" x2="364.3" y2="1288.9" stroke="#0a2fff" stroke-width="2.6" stroke-linecap="round"/>
<rect x="351.05" y="1227.1" width="17.9" height="61.8" fill="#fff" stroke="#0a2fff" stroke-width="2.6" stroke-linejoin="round"/>
<line x1="351.05" y1="1258" x2="368.95" y2="1258" stroke="#0a2fff" stroke-width="2.6" />
<line x1="386.8" y1="1239.46" x2="386.8" y2="1258" stroke="#00f500" stroke-width="2.6" />
<line x1="386.8" y1="1288.9" x2="386.8" y2="1288.9" stroke="#00f500" stroke-width="2.6" />
<line x1="382.5" y1="1239.46" x2="391.1" y2="1239.46" stroke="#00f500" stroke-width="2.6" stroke-linecap="round"/>
<line x1="382.5" y1="1288.9" x2="391.1" y2="1288.9" stroke="#00f500" stroke-width="2.6" stroke-linecap="round"/>
<rect x="377.85" y="1258" width="17.9" height="30.9" fill="#fff" stroke="#00f500" stroke-width="2.6" stroke-linejoin="round"/>
<line x1="377.85" y1="1258" x2="395.75" y2="1258" stroke="#00f500" stroke-width="2.6" />
<line x1="413.6" y1="1205.47" x2="413.6" y2="1227.1" stroke="#ff7c78" stroke-width="2.6" />
<line x1="413.6" y1="1288.9" x2="413.6" y2="1288.9" stroke="#ff7c78" stroke-width="2.6" />
<line x1="409.3" y1="1205.47" x2="417.9" y2="1205.47" stroke="#ff7c78" stroke-width="2.6" stroke-linecap="round"/>
<line x1="409.3" y1="1288.9" x2="417.9" y2="1288.9" stroke="#ff7c78" stroke-width="2.6" stroke-linecap="round"/>
<rect x="404.65" y="1227.1" width="17.9" height="61.8" fill="#fff" stroke="#ff7c78" stroke-width="2.6" stroke-linejoin="round"/>
<line x1="404.65" y1="1227.1" x2="422.55" y2="1227.1" stroke="#ff7c78" stroke-width="2.6" />
<line x1="440.4" y1="1202.38" x2="440.4" y2="1258" stroke="#8e1a8e" stroke-width="2.6" />
<line x1="440.4" y1="1288.9" x2="440.4" y2="1288.9" stroke="#8e1a8e" stroke-width="2.6" />
<line x1="436.1" y1="1202.38" x2="444.7" y2="1202.38" stroke="#8e1a8e" stroke-width="2.6" stroke-linecap="round"/>
<line x1="436.1" y1="1288.9" x2="444.7" y2="1288.9" stroke="#8e1a8e" stroke-width="2.6" stroke-linecap="round"/>
<rect x="431.45" y="1258" width="17.9" height="30.9" fill="#fff" stroke="#8e1a8e" stroke-width="2.6" stroke-linejoin="round"/>
<line x1="431.45" y1="1258" x2="449.35" y2="1258" stroke="#8e1a8e" stroke-width="2.6" />
<line x1="494.1" y1="1233.28" x2="494.1" y2="1288.9" stroke="#0a2fff" stroke-width="2.6" />
<line x1="494.1" y1="1288.9" x2="494.1" y2="1288.9" stroke="#0a2fff" stroke-width="2.6" />
<line x1="489.8" y1="1233.28" x2="498.4" y2="1233.28" stroke="#0a2fff" stroke-width="2.6" stroke-linecap="round"/>
<line x1="489.8" y1="1288.9" x2="498.4" y2="1288.9" stroke="#0a2fff" stroke-width="2.6" stroke-linecap="round"/>
<line x1="485.15" y1="1288.9" x2="503.05" y2="1288.9" stroke="#0a2fff" stroke-width="2.29" stroke-linecap="round"/>
<line x1="520.9" y1="1288.9" x2="520.9" y2="1288.9" stroke="#00f500" stroke-width="2.6" />
<line x1="520.9" y1="1288.9" x2="520.9" y2="1288.9" stroke="#00f500" stroke-width="2.6" />
<line x1="516.6" y1="1288.9" x2="525.2" y2="1288.9" stroke="#00f500" stroke-width="2.6" stroke-linecap="round"/>
<line x1="516.6" y1="1288.9" x2="525.2" y2="1288.9" stroke="#00f500" stroke-width="2.6" stroke-linecap="round"/>
<line x1="511.95" y1="1288.9" x2="529.85" y2="1288.9" stroke="#00f500" stroke-width="2.29" stroke-linecap="round"/>
<line x1="547.7" y1="1245.64" x2="547.7" y2="1288.9" stroke="#ff7c78" stroke-width="2.6" />
<line x1="547.7" y1="1288.9" x2="547.7" y2="1288.9" stroke="#ff7c78" stroke-width="2.6" />
<line x1="543.4" y1="1245.64" x2="552" y2="1245.64" stroke="#ff7c78" stroke-width="2.6" stroke-linecap="round"/>
<line x1="543.4" y1="1288.9" x2="552" y2="1288.9" stroke="#ff7c78" stroke-width="2.6" stroke-linecap="round"/>
<line x1="538.75" y1="1288.9" x2="556.65" y2="1288.9" stroke="#ff7c78" stroke-width="2.29" stroke-linecap="round"/>
<line x1="574.5" y1="1288.9" x2="574.5" y2="1288.9" stroke="#8e1a8e" stroke-width="2.6" />
<line x1="574.5" y1="1288.9" x2="574.5" y2="1288.9" stroke="#8e1a8e" stroke-width="2.6" />
<line x1="570.2" y1="1288.9" x2="578.8" y2="1288.9" stroke="#8e1a8e" stroke-width="2.6" stroke-linecap="round"/>
<line x1="570.2" y1="1288.9" x2="578.8" y2="1288.9" stroke="#8e1a8e" stroke-width="2.6" stroke-linecap="round"/>
<line x1="565.55" y1="1288.9" x2="583.45" y2="1288.9" stroke="#8e1a8e" stroke-width="2.29" stroke-linecap="round"/>
<rect x="137" y="976.9" width="17" height="2.9" fill="#fff"/>
<text transform="translate(113.2,1351.4) scale(1.04,1)" font-size="20.2" text-anchor="start" >0-2mm</text>
<text transform="translate(238,1351.4) scale(1.04,1)" font-size="20.2" text-anchor="start" >2-3mm</text>
<text transform="translate(370,1351.4) scale(1.04,1)" font-size="20.2" text-anchor="start" >3-4mm</text>
<text transform="translate(505,1351.4) scale(1.04,1)" font-size="20.2" text-anchor="start" >4-5mm</text>
<text transform="translate(347,1392) scale(1.03,1)" font-size="20" text-anchor="middle" >Adenoma diameter (mm)</text>
</svg>
</body></html>
